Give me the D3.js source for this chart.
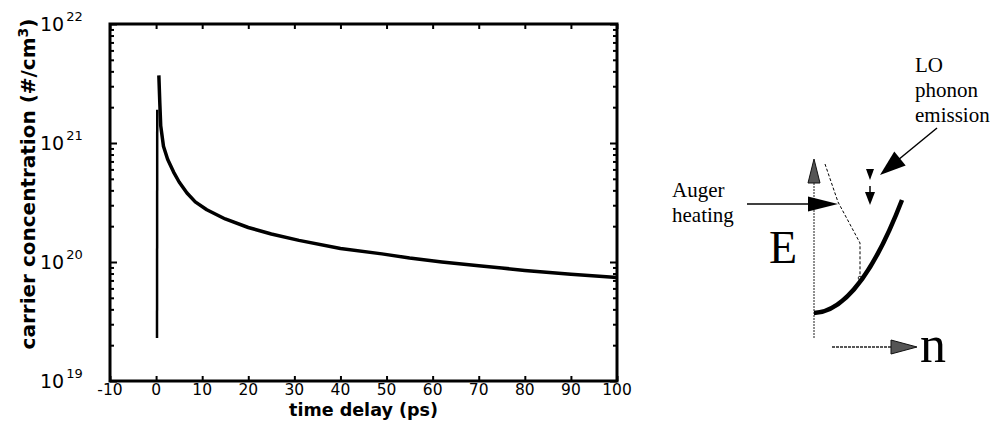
<!DOCTYPE html>
<html>
<head>
<meta charset="utf-8">
<script src="https://cdn.jsdelivr.net/npm/d3@7"></script>
<style>
  body { margin: 0; background: #fff; }
  svg { display: block; }
  .tick line { stroke: #000; stroke-width: 2; }
</style>
</head>
<body>
<div id="chart"></div>
<script>
// time delay (ps) and carrier concentration (#/cm3)
var riseTime = [0.2, 0.25];
var riseConc = [2.3e19, 1.9e21];

var decayTime = [0.6, 0.8, 1.0, 1.6, 2.5, 3.8, 5, 6.7, 8.5, 11, 15, 20, 25, 31, 40, 49, 55, 62, 70, 75, 80, 90, 100];
var decayConc = [3.7e21, 2.2e21, 1.4e21, 9.4e20, 7.3e20, 5.7e20, 4.7e20, 3.8e20, 3.2e20, 2.75e20, 2.3e20, 1.95e20,
                 1.72e20, 1.52e20, 1.3e20, 1.17e20, 1.08e20, 1.0e20, 9.3e19, 8.9e19, 8.5e19, 7.9e19, 7.4e19];

var xTicks = [-10, 0, 10, 20, 30, 40, 50, 60, 70, 80, 90, 100];
var yExponents = [19, 20, 21, 22];

var drawChart = function() {
  var outerWidth = 995, outerHeight = 434;
  var margin = { top: 24, left: 110 };
  var innerWidth = 507, innerHeight = 357;

  var svg = d3.select("#chart").append("svg")
    .attr("width", outerWidth)
    .attr("height", outerHeight);

  var g = svg.append("g")
    .attr("transform", "translate(" + margin.left + "," + margin.top + ")");

  //scales
  var xScale = d3.scaleLinear().domain([-10, 100]).range([0, innerWidth]);
  var yScale = d3.scaleLog().domain([1e19, 1e22]).range([innerHeight, 0]);

  var majors = yExponents.map(function(e) { return Math.pow(10, e); });
  var minors = [];
  yExponents.slice(0, 3).forEach(function(e) {
    for (var m = 2; m <= 9; m++) minors.push(m * Math.pow(10, e));
  });

  //ticks on all four sides, pointing in
  g.append("g").attr("transform", "translate(0," + innerHeight + ")")
    .call(d3.axisBottom(xScale).tickValues(xTicks).tickSizeInner(-5).tickSizeOuter(0).tickFormat(""));
  g.append("g")
    .call(d3.axisTop(xScale).tickValues(xTicks).tickSizeInner(-5).tickSizeOuter(0).tickFormat(""));
  g.append("g")
    .call(d3.axisLeft(yScale).tickValues(majors).tickSizeInner(-7).tickSizeOuter(0).tickFormat(""));
  g.append("g")
    .call(d3.axisLeft(yScale).tickValues(minors).tickSizeInner(-4).tickSizeOuter(0).tickFormat(""));
  g.append("g").attr("transform", "translate(" + innerWidth + ",0)")
    .call(d3.axisRight(yScale).tickValues(majors).tickSizeInner(-7).tickSizeOuter(0).tickFormat(""));
  g.append("g").attr("transform", "translate(" + innerWidth + ",0)")
    .call(d3.axisRight(yScale).tickValues(minors).tickSizeInner(-4).tickSizeOuter(0).tickFormat(""));

  //remove domain lines, the frame is drawn below
  g.selectAll(".domain").remove();

  g.append("rect")
    .attr("width", innerWidth)
    .attr("height", innerHeight)
    .attr("fill", "none")
    .attr("stroke", "#000")
    .attr("stroke-width", 3);

  //x tick labels
  g.selectAll(".xlabel")
    .data(xTicks)
    .enter()
    .append("text")
    .attr("class", "xlabel")
    .attr("x", function(d) { return xScale(d); })
    .attr("y", innerHeight + 14)
    .attr("text-anchor", "middle")
    .style("font-family", "DejaVu Sans")
    .style("font-size", "15.5px")
    .text(function(d) { return d; });

  //y tick labels 10^n
  var ylab = svg.selectAll(".ylabel")
    .data(yExponents)
    .enter()
    .append("text")
    .attr("class", "ylabel")
    .attr("x", 40)
    .attr("y", function(d) { return margin.top + yScale(Math.pow(10, d)) + 7; })
    .style("font-family", "DejaVu Sans")
    .style("font-size", "19px");
  ylab.append("tspan").text("10");
  ylab.append("tspan")
    .attr("dx", 2)
    .attr("dy", -10)
    .style("font-size", "13px")
    .text(function(d) { return d; });

  //axis titles
  svg.append("text")
    .attr("x", margin.left + xScale(45))
    .attr("y", 416)
    .attr("text-anchor", "middle")
    .attr("textLength", 149)
    .attr("lengthAdjust", "spacingAndGlyphs")
    .style("font-family", "DejaVu Sans")
    .style("font-weight", "bold")
    .style("font-size", "17.5px")
    .text("time delay (ps)");

  var ytitle = svg.append("text")
    .attr("transform", "translate(35,184) rotate(-90)")
    .attr("text-anchor", "middle")
    .style("font-family", "DejaVu Sans")
    .style("font-weight", "bold")
    .style("font-size", "20px");
  ytitle.append("tspan").text("carrier concentration (#/cm");
  ytitle.append("tspan").attr("dy", -7).style("font-size", "14px").text("3");
  ytitle.append("tspan").attr("dy", 7).text(")");

  //data lines
  var line = d3.line()
    .x(function(d) { return xScale(d[0]); })
    .y(function(d) { return yScale(d[1]); });

  g.append("path")
    .datum(d3.zip(riseTime, riseConc))
    .attr("d", line)
    .attr("fill", "none")
    .attr("stroke", "#000")
    .attr("stroke-width", 2.5);

  g.append("path")
    .datum(d3.zip(decayTime, decayConc))
    .attr("d", line)
    .attr("fill", "none")
    .attr("stroke", "#000")
    .attr("stroke-width", 3.5)
    .attr("stroke-linejoin", "round");

  //schematic on the right
  var s = svg.append("g");
  var serif = "Liberation Serif";

  //E axis (thin dotted) and arrowhead
  s.append("line").attr("x1", 814).attr("y1", 338).attr("x2", 814).attr("y2", 182)
    .attr("stroke", "#444").attr("stroke-width", 1.2).attr("stroke-dasharray", "2,1");
  s.append("path").attr("d", "M814,159 L808,183 L820,183 Z")
    .attr("fill", "#555").attr("stroke", "#111").attr("stroke-width", 1);

  //n axis
  s.append("line").attr("x1", 832).attr("y1", 347).attr("x2", 891).attr("y2", 347)
    .attr("stroke", "#222").attr("stroke-width", 1.3).attr("stroke-dasharray", "3,1");
  s.append("path").attr("d", "M891,340 L917,347 L891,354 Z")
    .attr("fill", "#555").attr("stroke", "#111").attr("stroke-width", 1);

  s.append("text").attr("x", 920).attr("y", 362)
    .style("font-family", serif).style("font-size", "52px").text("n");
  s.append("text").attr("x", 769).attr("y", 263)
    .style("font-family", serif).style("font-size", "46px").text("E");

  //Auger heating arrow
  s.append("line").attr("x1", 747).attr("y1", 204).attr("x2", 809).attr("y2", 204)
    .attr("stroke", "#000").attr("stroke-width", 1.3);
  s.append("path").attr("d", "M808,196.5 L838,204 L808,211.5 Z").attr("fill", "#000");
  var auger = s.append("text").style("font-family", serif).style("font-size", "21px");
  auger.append("tspan").attr("x", 672).attr("y", 197).text("Auger");
  auger.append("tspan").attr("x", 672).attr("y", 222).text("heating");

  //dashed distribution
  s.append("path").attr("d", "M825,164 L838,202 L860,243 L860,278")
    .attr("fill", "none").attr("stroke", "#000").attr("stroke-width", 1)
    .attr("stroke-dasharray", "3,2");
  s.append("circle").attr("cx", 860).attr("cy", 278).attr("r", 1.8)
    .attr("fill", "#fff").attr("stroke", "#000").attr("stroke-width", 0.8);

  //band curve
  s.append("path").attr("d", "M814,313 C845,312 875,270 902,200")
    .attr("fill", "none").attr("stroke", "#000").attr("stroke-width", 4.5);

  //LO phonon emission arrow
  s.append("line").attr("x1", 937).attr("y1", 128).attr("x2", 898).attr("y2", 160)
    .attr("stroke", "#000").attr("stroke-width", 1.5);
  s.append("path").attr("d", "M880,175 L894.3,151.6 L905.7,165.4 Z").attr("fill", "#000");

  //small dashed downward arrow
  s.append("path").attr("d", "M866,169 L874,169 L870,180 Z").attr("fill", "#000");
  s.append("line").attr("x1", 870).attr("y1", 186).attr("x2", 870).attr("y2", 194)
    .attr("stroke", "#000").attr("stroke-width", 1.5);
  s.append("path").attr("d", "M865,192 L875,192 L870,205 Z").attr("fill", "#000");

  var lo = s.append("text").style("font-family", serif).style("font-size", "21px");
  lo.append("tspan").attr("x", 915).attr("y", 72).text("LO");
  lo.append("tspan").attr("x", 915).attr("y", 97).text("phonon");
  lo.append("tspan").attr("x", 915).attr("y", 122).text("emission");
};

drawChart();
</script>
</body>
</html>
